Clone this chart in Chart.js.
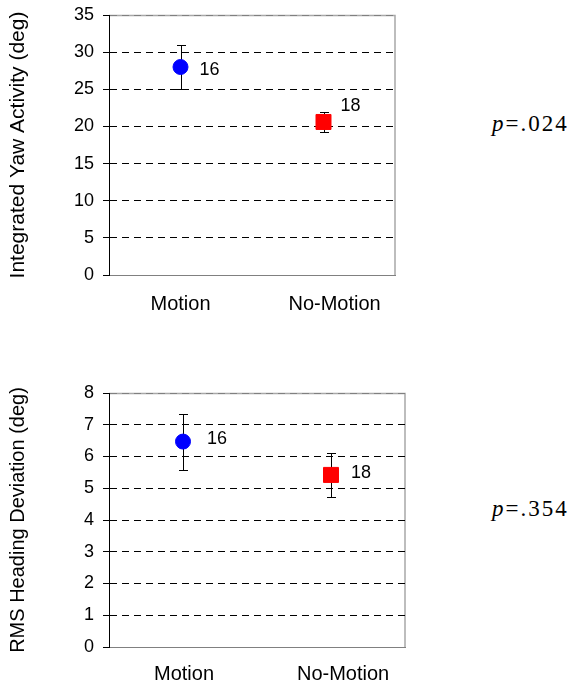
<!DOCTYPE html>
<html>
<head>
<meta charset="utf-8">
<script src="https://cdn.jsdelivr.net/npm/chart.js@4.4.0/dist/chart.umd.min.js"></script>
<style>
  html, body { margin: 0; padding: 0; background: #fff; }
  body { width: 570px; height: 684px; position: relative; overflow: hidden; }
  .panel { position: absolute; left: 0; }
  .pval {
    position: absolute; left: 492px;
    font-family: "Liberation Serif", "Times New Roman", serif;
    font-size: 23px; line-height: 23px; letter-spacing: 2px;
    color: #000; white-space: nowrap;
  }
</style>
</head>
<body>
<canvas id="yaw" class="panel" width="420" height="330" style="top:0"></canvas>
<canvas id="heading" class="panel" width="420" height="344" style="top:340px"></canvas>
<div id="p-yaw" class="pval" style="top:112px"></div>
<div id="p-heading" class="pval" style="top:497px"></div>

<script>
// groups and subject counts
const groups = ['Motion', 'No-Motion'];
const groupN = [16, 18];

// integrated yaw activity (deg): means and error half-widths
const yawMean = [28.0, 20.6];
const yawErr = [3.0, 1.35];

// RMS heading deviation (deg)
const headingMean = [6.47, 5.42];
const headingErr = [0.88, 0.68];

// significance of each comparison
const pValues = ['.024', '.354'];

// gray frame on the top and right of the plot area
const plotFrame = {
  id: 'plotFrame',
  beforeDraw( chart ) {
    const a = chart.chartArea;
    const ctx = chart.ctx;
    ctx.save();
    ctx.strokeStyle = '#a8a8a8';
    ctx.lineWidth = 1.5;
    ctx.beginPath();
    ctx.moveTo( a.left, a.top + 0.5 );
    ctx.lineTo( a.right, a.top + 0.5 );
    ctx.lineTo( a.right, a.bottom );
    ctx.stroke();
    ctx.restore();
  }
};

// vertical error bars with caps, behind the markers
const errorBars = {
  id: 'errorBars',
  beforeDatasetsDraw( chart ) {
    const ctx = chart.ctx;
    const y = chart.scales.y;
    const ds = chart.data.datasets[ 0 ];
    const meta = chart.getDatasetMeta( 0 );
    ctx.save();
    ctx.strokeStyle = '#000';
    ctx.lineWidth = 1;
    meta.data.forEach( function ( pt, i ) {
      const x = Math.round( pt.x ) + 0.5;
      const top = Math.round( y.getPixelForValue( ds.data[ i ] + ds.errors[ i ] ) ) + 0.5;
      const bottom = Math.round( y.getPixelForValue( ds.data[ i ] - ds.errors[ i ] ) ) + 0.5;
      ctx.beginPath();
      ctx.moveTo( x, top );
      ctx.lineTo( x, bottom );
      ctx.moveTo( x - 4.5, top );
      ctx.lineTo( x + 4.5, top );
      ctx.moveTo( x - 4.5, bottom );
      ctx.lineTo( x + 4.5, bottom );
      ctx.stroke();
    } );
    ctx.restore();
  }
};

// n next to each marker
const countLabels = {
  id: 'countLabels',
  afterDatasetsDraw( chart ) {
    const ctx = chart.ctx;
    const ds = chart.data.datasets[ 0 ];
    const meta = chart.getDatasetMeta( 0 );
    ctx.save();
    ctx.font = '18px "Liberation Sans", Arial, sans-serif';
    ctx.fillStyle = '#000';
    ctx.textAlign = 'left';
    ctx.textBaseline = 'middle';
    meta.data.forEach( function ( pt, i ) {
      const off = ds.labelOffsets[ i ];
      ctx.fillText( String( ds.counts[ i ] ), pt.x + off[ 0 ], pt.y + off[ 1 ] );
    } );
    ctx.restore();
  }
};

const labelPad = [ '', '    ' ];

function makePanel( id, cfg ) {
  return new Chart( document.getElementById( id ), {
    type: 'line',
    data: {
      labels: groups,
      datasets: [ {
        data: cfg.mean,
        errors: cfg.err,
        counts: groupN,
        labelOffsets: cfg.labelOffsets,
        showLine: false,
        pointStyle: [ 'circle', 'rect' ],
        pointRadius: [ 7.5, 10.6 ],
        pointBackgroundColor: [ '#0000ff', '#ff0000' ],
        pointBorderColor: [ '#0000ff', '#ff0000' ],
        pointBorderWidth: 1,
        pointHoverRadius: [ 7.5, 10.6 ]
      } ]
    },
    options: {
      responsive: false,
      animation: false,
      events: [],
      layout: { padding: cfg.padding },
      plugins: {
        legend: { display: false },
        tooltip: { enabled: false }
      },
      scales: {
        x: {
          type: 'category',
          offset: true,
          grid: { display: false, drawTicks: false },
          border: { display: true, color: '#808080', width: 1 },
          ticks: {
            color: '#000',
            font: { family: '"Liberation Sans", Arial, sans-serif', size: 20 },
            padding: cfg.xPad,
            maxRotation: 0,
            autoSkip: false,
            labelOffset: cfg.labelOffset,
            callback: function ( v, i ) {
              return labelPad[ i ] + groups[ i ];
            }
          },
          afterFit: function ( scale ) {
            scale.height = cfg.xHeight;
          }
        },
        y: {
          min: cfg.min,
          max: cfg.max,
          grid: {
            color: function ( c ) {
              if ( c.tick.value === cfg.min ) {
                return 'rgba(0,0,0,0)';
              }
              return c.tick.value === cfg.max ? '#808080' : '#000';
            },
            lineWidth: 1,
            tickColor: '#000',
            tickLength: 6
          },
          border: { display: true, color: '#000', width: 1, dash: [ 7, 5 ] },
          ticks: {
            stepSize: cfg.step,
            color: '#000',
            font: { family: '"Liberation Sans", Arial, sans-serif', size: 18 },
            padding: 9
          },
          title: {
            display: true,
            text: cfg.title,
            color: '#000',
            font: { family: '"Liberation Sans", Arial, sans-serif', size: cfg.titleSize },
            padding: { top: 6, bottom: 0 }
          },
          afterFit: function ( scale ) {
            scale.width = 109;
            // the plot edges are set by the layout padding alone
            scale.paddingTop = 0;
            scale.paddingBottom = 0;
          }
        }
      }
    },
    plugins: [ plotFrame, errorBars, countLabels ]
  } );
}

makePanel( 'yaw', {
  mean: yawMean,
  err: yawErr,
  min: 0, max: 35, step: 5,
  title: 'Integrated Yaw Activity (deg)',
  titleSize: 21,
  padding: { top: 15, right: 25, bottom: 0, left: 0 },
  xHeight: 55,
  xPad: 17,
  labelOffset: 0,
  labelOffsets: [ [ 19, 3 ], [ 17, -16 ] ]
} );

makePanel( 'heading', {
  mean: headingMean,
  err: headingErr,
  min: 0, max: 8, step: 1,
  title: 'RMS Heading Deviation (deg)',
  titleSize: 20,
  padding: { top: 53, right: 15, bottom: 0, left: 0 },
  xHeight: 37,
  xPad: 15,
  labelOffset: 1,
  labelOffsets: [ [ 24, -3 ], [ 20, -2 ] ]
} );

document.getElementById( 'p-yaw' ).innerHTML = '<i>p</i>=' + pValues[ 0 ];
document.getElementById( 'p-heading' ).innerHTML = '<i>p</i>=' + pValues[ 1 ];
</script>
</body>
</html>
